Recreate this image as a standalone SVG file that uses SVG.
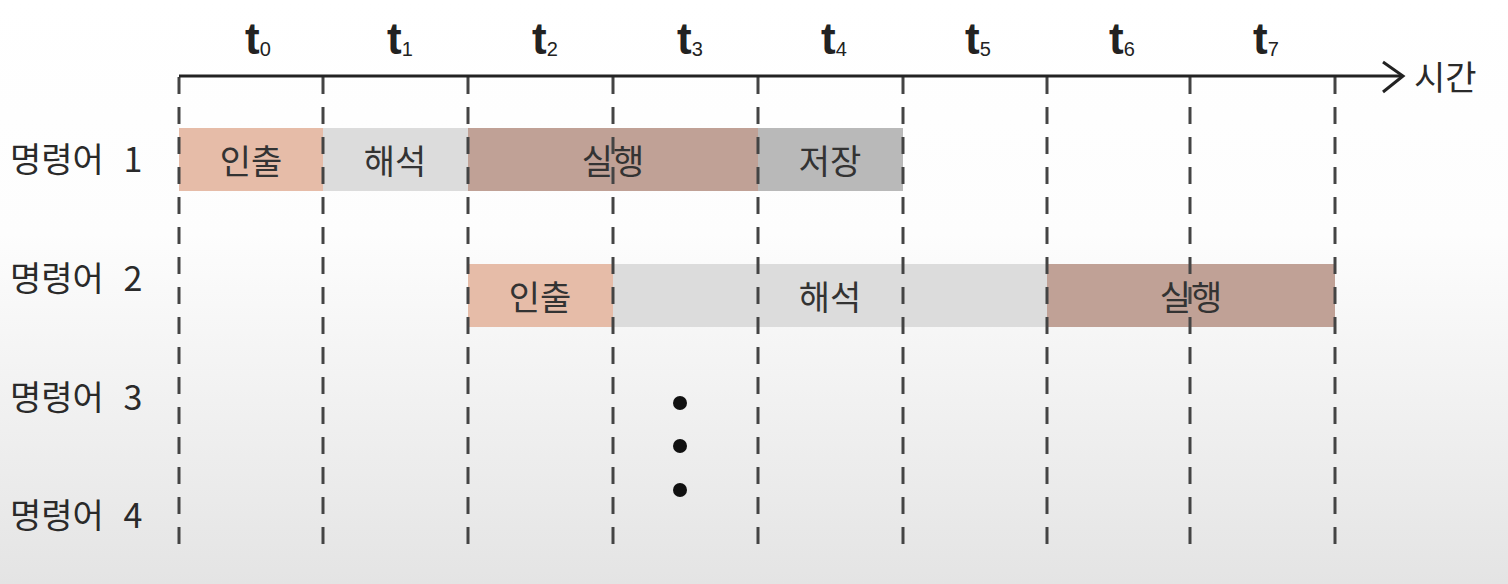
<svg xmlns="http://www.w3.org/2000/svg" width="1508" height="584" viewBox="0 0 1508 584">
<defs>
<linearGradient id="bg" x1="0" y1="0" x2="0" y2="1">
<stop offset="0" stop-color="#ffffff"/>
<stop offset="0.4" stop-color="#fdfdfd"/>
<stop offset="1" stop-color="#e4e4e4"/>
</linearGradient>
</defs>
<style>
.lbl{font-family:"Noto Sans CJK KR","Noto Sans",sans-serif;font-size:34px;fill:#2a2a2a;word-spacing:12px}
.bl{font-family:"Noto Sans CJK KR","Noto Sans",sans-serif;font-size:34px;fill:#333;text-anchor:middle;dominant-baseline:central}
.t{font-family:"Liberation Sans","DejaVu Sans",sans-serif;font-size:44px;font-weight:bold;fill:#222;text-anchor:middle}
.sub{font-size:20px;font-weight:normal}
.dash{stroke:#444;stroke-width:3;stroke-dasharray:17 13}
.fetch{fill:#e6bca8}
.dec{fill:#dcdcdc}
.exe{fill:#c0a196}
.store{fill:#b9b9b9}
</style>
<rect width="1508" height="584" fill="url(#bg)"/>
<g id="bars1">
<rect class="fetch" x="179" y="128" width="144" height="63"/>
<rect class="dec" x="323" y="128" width="145" height="63"/>
<rect class="exe" x="468" y="128" width="290" height="63"/>
<rect class="store" x="758" y="128" width="145" height="63"/>
</g>
<g id="bars2">
<rect class="fetch" x="468" y="264" width="145" height="63"/>
<rect class="dec" x="613" y="264" width="434" height="63"/>
<rect class="exe" x="1047" y="264" width="288" height="63"/>
</g>
<g id="connectors">
<line class="dash" x1="179" y1="77" x2="179" y2="550"/>
<line class="dash" x1="323" y1="77" x2="323" y2="550"/>
<line class="dash" x1="468" y1="77" x2="468" y2="550"/>
<line class="dash" x1="613" y1="77" x2="613" y2="550"/>
<line class="dash" x1="758" y1="77" x2="758" y2="550"/>
<line class="dash" x1="903" y1="77" x2="903" y2="550"/>
<line class="dash" x1="1047" y1="77" x2="1047" y2="550"/>
<line class="dash" x1="1190" y1="77" x2="1190" y2="550"/>
<line class="dash" x1="1335" y1="77" x2="1335" y2="550"/>
<line x1="179" y1="76" x2="1402" y2="76" stroke="#222" stroke-width="3"/>
<polyline points="1383,62 1403,76 1383,92" fill="none" stroke="#222" stroke-width="3" stroke-linejoin="miter"/>
</g>
<g id="axis-labels">
<text class="t" x="258" y="54">t<tspan class="sub" dy="2">0</tspan></text>
<text class="t" x="400" y="54">t<tspan class="sub" dy="2">1</tspan></text>
<text class="t" x="545" y="54">t<tspan class="sub" dy="2">2</tspan></text>
<text class="t" x="690" y="54">t<tspan class="sub" dy="2">3</tspan></text>
<text class="t" x="834" y="54">t<tspan class="sub" dy="2">4</tspan></text>
<text class="t" x="978" y="54">t<tspan class="sub" dy="2">5</tspan></text>
<text class="t" x="1122" y="54">t<tspan class="sub" dy="2">6</tspan></text>
<text class="t" x="1266" y="54">t<tspan class="sub" dy="2">7</tspan></text>
<text class="lbl" x="1414" y="90">시간</text>
</g>
<g id="row-labels">
<text class="lbl" x="10" y="172">명령어 1</text>
<text class="lbl" x="10" y="291">명령어 2</text>
<text class="lbl" x="10" y="410">명령어 3</text>
<text class="lbl" x="10" y="528">명령어 4</text>
</g>
<g id="bar-labels">
<text class="bl" x="251" y="159">인출</text>
<text class="bl" x="395" y="159">해석</text>
<text class="bl" x="613" y="159">실행</text>
<text class="bl" x="830" y="159">저장</text>
<text class="bl" x="540" y="295">인출</text>
<text class="bl" x="830" y="295">해석</text>
<text class="bl" x="1191" y="295">실행</text>
</g>
<g id="dots" fill="#111">
<circle cx="680" cy="403" r="7"/>
<circle cx="680" cy="446" r="7"/>
<circle cx="680" cy="490" r="7"/>
</g>
</svg>
